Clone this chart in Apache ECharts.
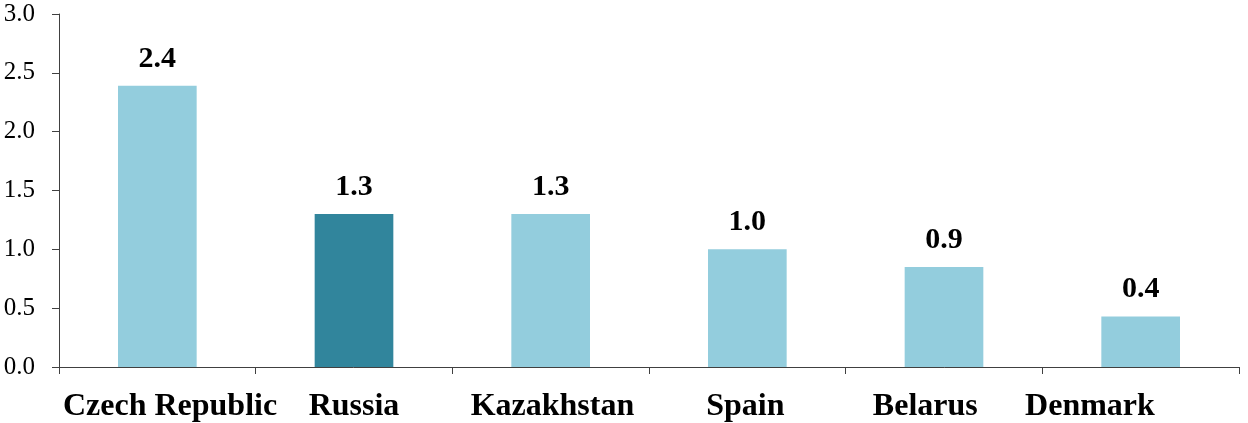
<!DOCTYPE html>
<html>
<head>
<meta charset="utf-8">
<script src="https://cdn.jsdelivr.net/npm/echarts@6/dist/echarts.min.js"></script>
<style>html,body{margin:0;padding:0;background:#fff}#c{width:1248px;height:423px}</style>
</head>
<body>
<div id="c"></div>
<script>
var categories = ['Czech Republic', 'Russia', 'Kazakhstan', 'Spain', 'Belarus', 'Denmark'];
var values = [2.39, 1.30, 1.30, 1.00, 0.85, 0.43];
var highlight = [false, true, false, false, false, false];
var yTicks = [0, 0.5, 1.0, 1.5, 2.0, 2.5, 3.0];
// horizontal label nudges (px) to mimic the source's uneven label placement
var labelShift = [12.7, 0, 1.8, -2, -18.7, -50.7];

var rich = {};
categories.forEach(function (c, i) {
  var s = labelShift[i];
  rich['l' + i] = {
    fontFamily: 'Liberation Serif',
    fontWeight: 'bold',
    fontSize: 32,
    color: '#000',
    padding: s >= 0 ? [0, 0, 0, 2 * s] : [0, -2 * s, 0, 0]
  };
});

var chart = echarts.init(document.getElementById('c'), null, {renderer: 'canvas'});
chart.setOption({
  animation: false,
  backgroundColor: '#fff',
  grid: {left: 59, right: 9, top: 14, bottom: 55, containLabel: false},
  xAxis: {
    type: 'category',
    data: categories,
    boundaryGap: true,
    axisLine: {lineStyle: {color: '#404040', width: 1}},
    axisTick: {show: true, length: 7, alignWithLabel: false, lineStyle: {color: '#404040'}},
    axisLabel: {
      interval: 0,
      margin: 24,
      formatter: function (v, i) { return '{l' + i + '|' + v + '}'; },
      rich: rich
    }
  },
  yAxis: {
    type: 'value',
    min: yTicks[0],
    max: yTicks[yTicks.length - 1],
    interval: 0.5,
    splitLine: {show: false},
    axisLine: {show: true, lineStyle: {color: '#404040', width: 1}},
    axisTick: {show: true, length: 7, lineStyle: {color: '#404040'}},
    axisLabel: {
      margin: 24,
      fontFamily: 'Liberation Serif',
      fontSize: 25,
      color: '#000',
      formatter: function (v) { return v.toFixed(1); }
    }
  },
  series: [{
    type: 'bar',
    barWidth: '40%',
    data: values.map(function (v, i) {
      return {value: v, itemStyle: {color: highlight[i] ? '#31859C' : '#93CDDD'}};
    }),
    label: {
      show: true,
      position: 'top',
      distance: 12,
      fontFamily: 'Liberation Serif',
      fontWeight: 'bold',
      fontSize: 30,
      color: '#000',
      formatter: function (p) { return (Math.round(p.value * 10) / 10).toFixed(1); }
    }
  }]
});
</script>
</body>
</html>
